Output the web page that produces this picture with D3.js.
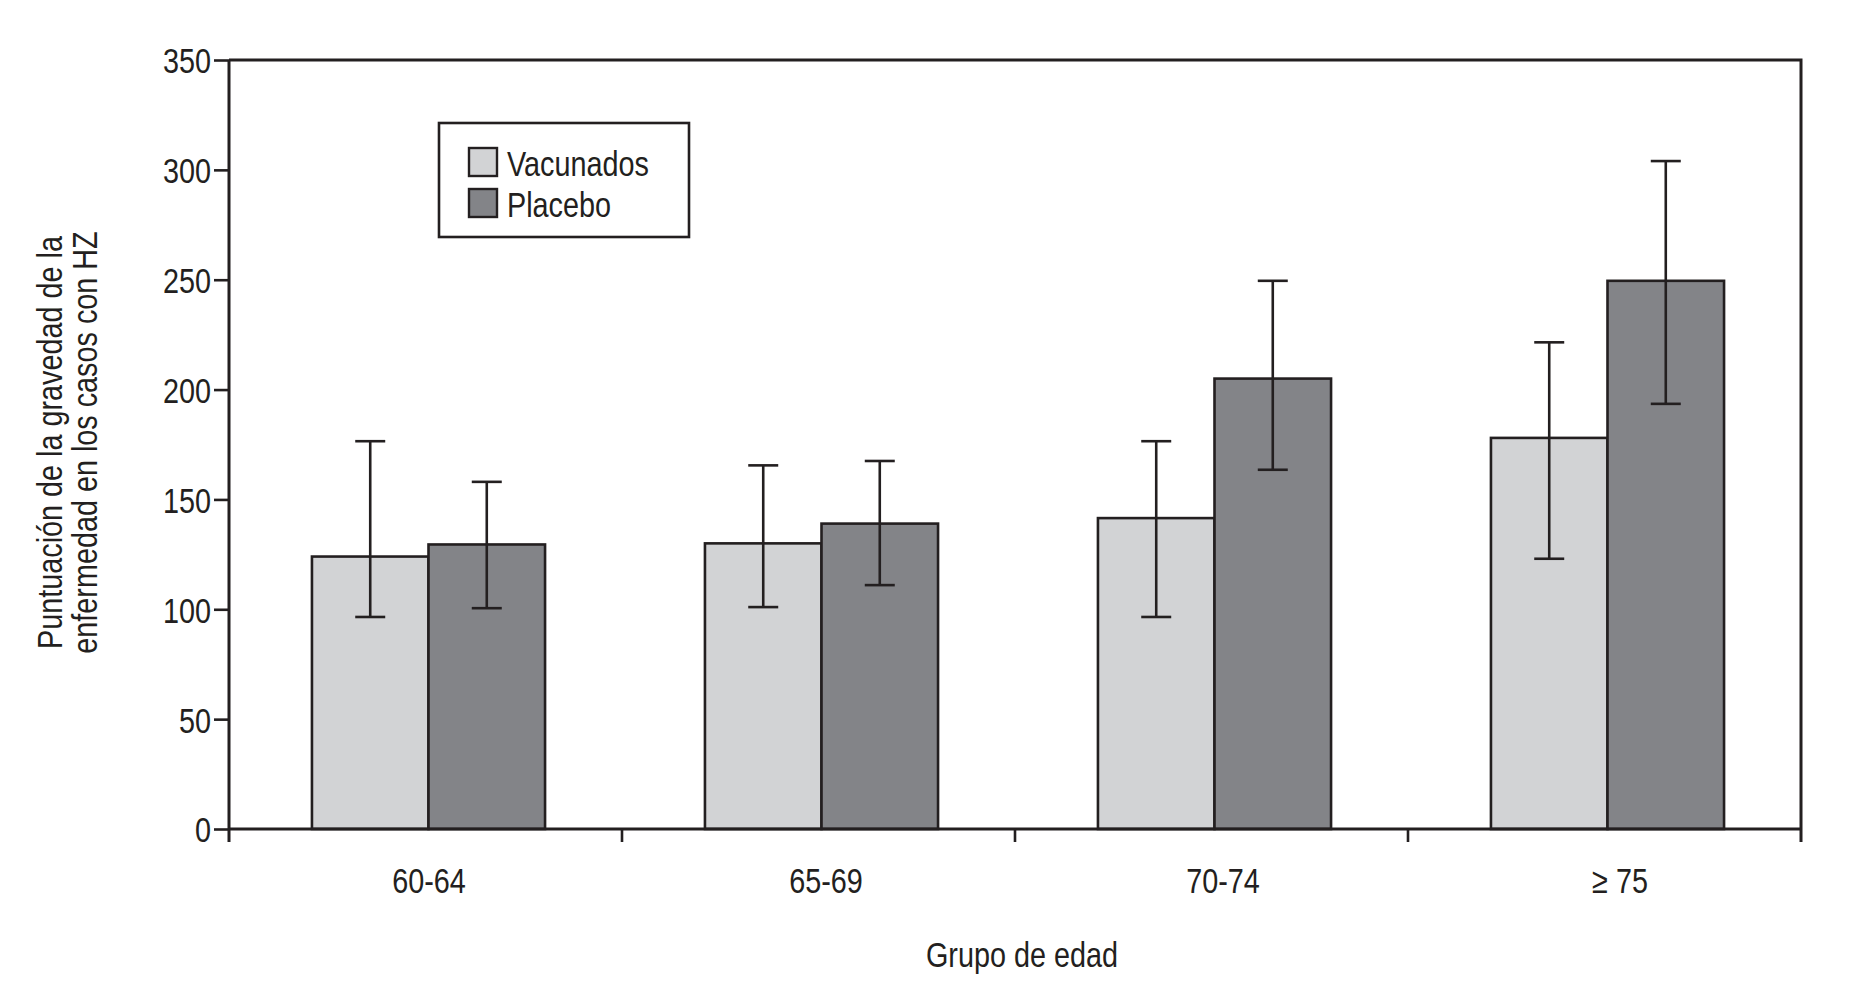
<!DOCTYPE html>
<html>
<head>
<meta charset="utf-8">
<script src="https://cdn.jsdelivr.net/npm/d3@7"></script>
<style>
  html, body { margin: 0; padding: 0; background: #fff; }
  svg text { font-family: "Liberation Sans", Arial, sans-serif; fill: #231f20; }
</style>
</head>
<body>
<div id="chart"></div>
<script>
const groups = ["60-64", "65-69", "70-74", "\u2265 75"];
const series = ["Vacunados", "Placebo"];
const vacunados = [124, 130, 141.5, 178];
const vacunadosLow = [96.5, 101, 96.5, 123];
const vacunadosHigh = [176.5, 165.5, 176.5, 221.5];
const placebo = [129.5, 139, 205, 249.5];
const placeboLow = [100.5, 111, 163.5, 193.5];
const placeboHigh = [158, 167.5, 249.5, 304];
const yTicks = [0, 50, 100, 150, 200, 250, 300, 350];
const yTitle = ["Puntuación de la gravedad de la", "enfermedad en los casos con HZ"];
const xTitle = "Grupo de edad";

const colors = { "Vacunados": "#d2d3d5", "Placebo": "#838488" };
const ink = "#231f20";
const fontSize = 36, squeeze = 0.8;   // no condensed face installed, so squeeze Liberation Sans

const width = 1858, height = 987;
const margin = { top: 60, right: 57, bottom: 158, left: 229 };
const innerW = width - margin.left - margin.right,
    innerH = height - margin.top - margin.bottom;

// table built from the arrays
const rows = groups.map(function (g, i) {
    return {
        group: g,
        bars: [
            { key: "Vacunados", value: vacunados[i], lo: vacunadosLow[i], hi: vacunadosHigh[i] },
            { key: "Placebo", value: placebo[i], lo: placeboLow[i], hi: placeboHigh[i] }
        ]
    };
});

// horizontally compress a text around its own x anchor
function narrow(sel) {
    sel.each(function () {
        const t = d3.select(this);
        const x0 = +(t.attr("x") || 0);
        t.attr("transform", "translate(" + x0 + ",0) scale(" + squeeze + ",1) translate(" + (-x0) + ",0)");
    });
}

const svg = d3.select("#chart")
    .append("svg")
    .attr("width", width)
    .attr("height", height);

const g = svg.append("g")
    .attr("transform", "translate(" + margin.left + "," + margin.top + ")");

const x0 = d3.scaleBand().domain(groups).range([0, innerW]).padding(0);
const x1 = d3.scaleBand().domain(series).range([0, x0.bandwidth()])
    .paddingInner(0).paddingOuter(0.686);
// the category labels sit on a slightly wider spacing than the bars
const xLab = d3.scaleBand().domain(groups).range([1.5, innerW + 17.5]).padding(0);
const y = d3.scaleLinear().domain([0, 350]).range([innerH, 0]);

// bars
const grp = g.selectAll(".grp")
    .data(rows)
    .join("g")
    .attr("class", "grp")
    .attr("transform", function (d) { return "translate(" + (x0(d.group) + 3) + ",0)"; });

grp.selectAll("rect")
    .data(function (d) { return d.bars; })
    .join("rect")
    .attr("x", function (d) { return x1(d.key); })
    .attr("y", function (d) { return y(d.value); })
    .attr("width", x1.bandwidth())
    .attr("height", function (d) { return y(0) - y(d.value); })
    .attr("fill", function (d) { return colors[d.key]; })
    .attr("stroke", ink)
    .attr("stroke-width", 2.6);

// error bars
const capW = 15;
const err = grp.selectAll(".err")
    .data(function (d) { return d.bars; })
    .join("g")
    .attr("class", "err")
    .attr("stroke", ink)
    .attr("stroke-width", 2.6);
err.append("line")
    .attr("x1", function (d) { return x1(d.key) + x1.bandwidth() / 2; })
    .attr("x2", function (d) { return x1(d.key) + x1.bandwidth() / 2; })
    .attr("y1", function (d) { return y(d.lo); })
    .attr("y2", function (d) { return y(d.hi); });
err.append("line")
    .attr("x1", function (d) { return x1(d.key) + x1.bandwidth() / 2 - capW; })
    .attr("x2", function (d) { return x1(d.key) + x1.bandwidth() / 2 + capW; })
    .attr("y1", function (d) { return y(d.hi); })
    .attr("y2", function (d) { return y(d.hi); });
err.append("line")
    .attr("x1", function (d) { return x1(d.key) + x1.bandwidth() / 2 - capW; })
    .attr("x2", function (d) { return x1(d.key) + x1.bandwidth() / 2 + capW; })
    .attr("y1", function (d) { return y(d.lo); })
    .attr("y2", function (d) { return y(d.lo); });

// frame (top + right)
g.append("path")
    .attr("d", "M0,0H" + innerW + "V" + (innerH + 13))
    .attr("fill", "none")
    .attr("stroke", ink)
    .attr("stroke-width", 3);

// y axis
const yAxis = g.append("g")
    .call(d3.axisLeft(y).tickValues(yTicks).tickSize(15).tickPadding(3));
yAxis.select(".domain").remove();
yAxis.append("line")
    .attr("x1", 0).attr("x2", 0)
    .attr("y1", 0).attr("y2", innerH + 13)
    .attr("stroke", ink).attr("stroke-width", 3);
yAxis.selectAll(".tick line").attr("stroke", ink).attr("stroke-width", 2.6);
yAxis.selectAll(".tick text")
    .attr("font-size", fontSize)
    .attr("dy", "0.36em")
    .style("fill", ink)
    .call(narrow);

// x axis: labels from the label scale, ticks at bar-band edges
const xAxis = g.append("g")
    .attr("transform", "translate(0," + innerH + ")")
    .call(d3.axisBottom(xLab).tickSize(0).tickPadding(64));
xAxis.select(".domain").remove();
xAxis.append("line")
    .attr("x1", 0).attr("x2", innerW)
    .attr("stroke", ink).attr("stroke-width", 3);
xAxis.selectAll(".tick text")
    .attr("font-size", fontSize)
    .attr("dy", 0)
    .style("fill", ink)
    .call(narrow);
xAxis.selectAll(".edge")
    .data(groups.slice(1))
    .join("line")
    .attr("class", "edge")
    .attr("x1", function (d) { return x0(d); })
    .attr("x2", function (d) { return x0(d); })
    .attr("y1", 0).attr("y2", 13)
    .attr("stroke", ink).attr("stroke-width", 2.6);

// axis titles
g.append("text")
    .attr("x", innerW / 2 + 7)
    .attr("y", 967 - margin.top)
    .attr("text-anchor", "middle")
    .attr("font-size", fontSize)
    .text(xTitle)
    .call(narrow);

const yt = svg.append("g")
    .attr("transform", "translate(62," + (margin.top + innerH / 2 - 2) + ") rotate(-90)");
yt.selectAll("text")
    .data(yTitle)
    .join("text")
    .attr("x", 0)
    .attr("y", function (d, i) { return i * 35; })
    .attr("text-anchor", "middle")
    .attr("font-size", fontSize)
    .text(function (d) { return d; })
    .call(narrow);

// legend
const leg = svg.append("g").attr("transform", "translate(439,123)");
leg.append("rect")
    .attr("width", 250).attr("height", 114)
    .attr("fill", "#fff").attr("stroke", ink).attr("stroke-width", 2.6);
const items = leg.selectAll(".item")
    .data(series)
    .join("g")
    .attr("class", "item")
    .attr("transform", function (d, i) { return "translate(30," + (25 + i * 41) + ")"; });
items.append("rect")
    .attr("width", 28).attr("height", 28)
    .attr("fill", function (d) { return colors[d]; })
    .attr("stroke", ink).attr("stroke-width", 2.4);
items.append("text")
    .attr("x", 38).attr("y", 28)
    .attr("font-size", fontSize)
    .text(function (d) { return d; })
    .call(narrow);
</script>
</body>
</html>
